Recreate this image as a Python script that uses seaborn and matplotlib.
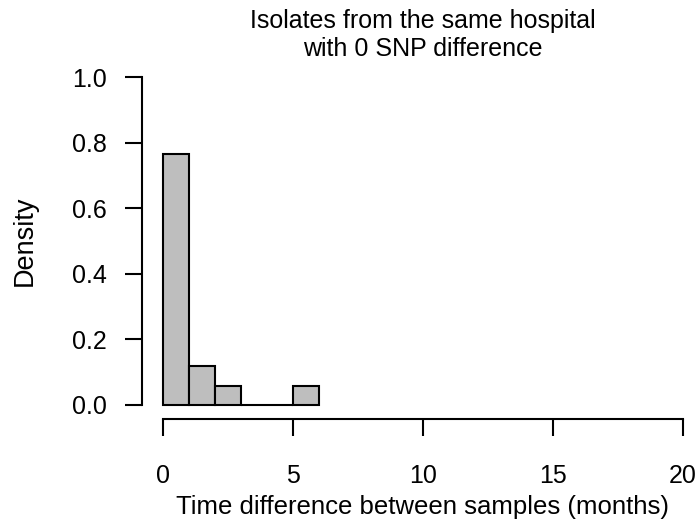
import matplotlib
matplotlib.use("Agg")
import matplotlib.pyplot as plt
import seaborn as sns

# Histogram of time differences (months), density scale, 1-month bins
bin_edges = [0, 1, 2, 3, 4, 5, 6]
density = [0.765, 0.118, 0.059, 0.0, 0.0, 0.059]
x_ticks = [0, 5, 10, 15, 20]
y_ticks = [0.0, 0.2, 0.4, 0.6, 0.8, 1.0]
title = "Isolates from the same hospital\nwith 0 SNP difference"
x_label = "Time difference between samples (months)"
y_label = "Density"

sns.set_theme(style="white")
plt.rcParams["font.family"] = ["Liberation Sans", "DejaVu Sans"]

W, H = 700, 524
fig = plt.figure(figsize=(W / 100, H / 100), dpi=100)
fig.patch.set_facecolor("white")

# plot region in pixels: left 142, right 703.5, top 64, bottom 419
left, right, top, bottom = 142, 703.5, 64, 419
ax = fig.add_axes([left / W, 1 - bottom / H, (right - left) / W, (bottom - top) / H])
ax.set_facecolor("white")

mids = [(a + b) / 2 for a, b in zip(bin_edges[:-1], bin_edges[1:])]
sns.histplot(x=mids, weights=density, bins=bin_edges, stat="count",
             color="#BEBEBE", edgecolor="black", linewidth=1.5, alpha=1.0,
             ax=ax)

ax.set_xlim(-0.8, 20.8)
ax.set_ylim(-0.043, 1.04)
ax.set_xticks(x_ticks)
ax.set_xticklabels([str(t) for t in x_ticks])
ax.set_yticks(y_ticks)
ax.set_yticklabels([f"{t:.1f}" for t in y_ticks])

for s in ["top", "right"]:
    ax.spines[s].set_visible(False)
for s in ["left", "bottom"]:
    ax.spines[s].set_visible(True)
    ax.spines[s].set_color("black")
    ax.spines[s].set_linewidth(1.5)
ax.spines["left"].set_bounds(0, 1)
ax.spines["bottom"].set_bounds(0, 20)
ax.grid(False)

ax.tick_params(axis="both", which="major", direction="out", length=12.2,
               width=1.5, color="black", labelsize=18, labelcolor="black",
               left=True, bottom=True)
ax.tick_params(axis="x", pad=20)
ax.tick_params(axis="y", pad=13)

ax.set_xlabel(x_label, fontsize=18.5, color="black")
ax.set_ylabel(y_label, fontsize=19.5, color="black")
ax.xaxis.label.set_va("baseline")
ax.yaxis.label.set_va("center")
ax.xaxis.set_label_coords(423 / W, 1 - 514 / H, transform=fig.transFigure)
ax.yaxis.set_label_coords(25 / W, 1 - 241 / H, transform=fig.transFigure)

ax.set_title(title, fontsize=18, color="black", linespacing=1.25,
             y=(bottom - 35) / (bottom - top), va="center", pad=0)

fig.savefig("out.png", dpi=100, facecolor="white")
